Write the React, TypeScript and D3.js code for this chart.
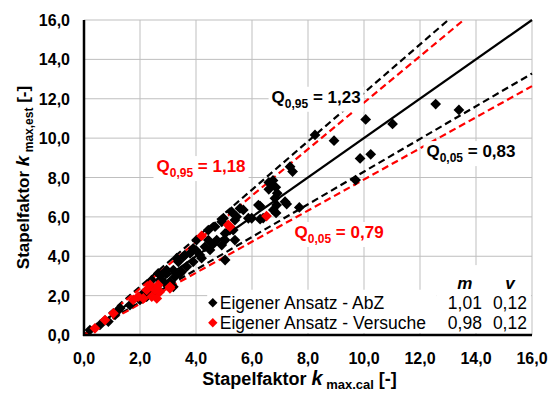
import { useEffect, useRef } from 'react';
import * as d3 from 'd3';

// ─── Data ──────────────────────────────────────────────────

const WIDTH = 552;
const HEIGHT = 393;
const MARGIN = { top: 20, right: 20, bottom: 58, left: 84 };
const AXIS_MAX = 16;
const TICKS = [0, 2, 4, 6, 8, 10, 12, 14, 16];

// Eigener Ansatz - AbZ (black)
const ABZ_CAL = [
  0.21, 0.57, 0.87, 1.11, 1.23, 1.29, 1.64, 2.0, 2.12, 2.24, 2.54, 2.36, 2.6, 2.42, 2.71, 2.89,
  3.07, 3.19, 2.95, 2.77, 2.65, 2.95, 3.25, 3.43, 3.19, 3.49, 3.37, 3.67, 3.9, 3.55, 3.79, 3.6,
  3.31, 4.14, 4.32, 4.5, 4.02, 4.44, 4.74, 5.04, 4.92, 4.68, 4.44, 4.92, 5.21, 5.39, 5.04, 5.39,
  5.04, 5.33, 5.27, 5.57, 5.87, 4.98, 5.45, 5.69, 5.99, 6.29, 6.23, 6.4, 6.76, 6.86, 6.88, 7.18,
  7.24, 7.69, 6.29, 6.82, 6.6, 6.7, 6.75, 6.85, 6.6, 6.9, 7.36, 7.45, 8.25, 8.93, 9.7, 9.86,
  10.24, 10.06, 11.02, 12.56, 13.39, 4.0, 4.2, 3.9, 4.6,
];
const ABZ_EST = [
  0.25, 0.51, 0.68, 1.02, 1.27, 1.36, 1.52, 1.78, 2.12, 1.95, 2.03, 2.2, 2.45, 2.79, 2.79, 2.63,
  2.71, 2.45, 3.13, 3.05, 3.13, 3.3, 2.96, 3.13, 3.3, 3.21, 3.72, 3.47, 3.72, 3.98, 4.15, 4.06,
  3.9, 4.06, 4.48, 4.32, 4.82, 4.82, 4.82, 4.82, 4.57, 5.5, 5.33, 5.75, 5.33, 5.84, 3.81, 4.82,
  5.16, 5.33, 6.26, 6.43, 5.93, 5.93, 6.01, 6.35, 5.93, 5.88, 6.6, 5.94, 6.35, 6.2, 6.6, 6.77,
  6.65, 6.48, 6.55, 6.94, 7.4, 7.6, 7.85, 7.5, 7.75, 7.2, 8.55, 8.3, 10.16, 9.87, 7.87, 8.97,
  9.18, 10.95, 10.72, 11.73, 11.43, 4.3, 3.9, 4.4, 4.6,
];

// Eigener Ansatz - Versuche (red)
const VERS_CAL = [
  0.39, 0.75, 1.05, 1.76, 1.94, 2.12, 2.24, 2.42, 2.6, 2.65, 2.36, 2.71, 3.07, 3.07, 2.54, 4.2,
  5.21, 5.15, 6.52,
];
const VERS_EST = [
  0.34, 0.76, 1.1, 1.78, 1.95, 1.86, 2.29, 1.95, 1.86, 2.54, 2.54, 2.2, 2.37, 2.45, 2.29, 5.03,
  5.5, 5.59, 6.04,
];

const SERIES_NAMES = ['Eigener Ansatz - AbZ', 'Eigener Ansatz - Versuche'];
const SERIES_COLORS = ['#000000', '#ff0000'];
const SERIES_M = ['1,01', '0,98'];
const SERIES_V = ['0,12', '0,12'];

// Reference lines k_est = slope * k_cal
const LINE_SLOPES = [1.0, 1.23, 1.18, 0.83, 0.79];
const LINE_COLORS = ['#000000', '#000000', '#ff0000', '#000000', '#ff0000'];
const LINE_DASHED = [false, true, true, true, true];

// Quantile annotations (anchored in data units)
const ANNO_SUB = ['0,95', '0,95', '0,05', '0,05'];
const ANNO_VALUE = ['1,23', '1,18', '0,83', '0,79'];
const ANNO_COLOR = ['#000000', '#ff0000', '#000000', '#ff0000'];
const ANNO_X = [8.29, 4.18, 13.82, 9.11];
const ANNO_Y = [12.05, 8.53, 9.29, 5.18];

const FONT = '"Liberation Sans", Arial, sans-serif';
const fmt = (v: number) => d3.format('.1f')(v).replace('.', ',');

// ─── Component ─────────────────────────────────────────────

export default function App() {
  const svgRef = useRef<SVGSVGElement>(null);

  useEffect(() => {
    if (!svgRef.current) return;
    const svg = d3.select(svgRef.current);
    svg.selectAll('*').remove();

    const x = d3.scaleLinear().domain([0, AXIS_MAX]).range([MARGIN.left, WIDTH - MARGIN.right]);
    const y = d3.scaleLinear().domain([0, AXIS_MAX]).range([HEIGHT - MARGIN.bottom, MARGIN.top]);

    svg.append('rect').attr('width', WIDTH).attr('height', HEIGHT).attr('fill', '#fff');

    // Grid
    const grid = svg.append('g').attr('stroke', '#bfbfbf').attr('stroke-width', 1);
    grid.selectAll('line.h').data(TICKS.slice(1)).join('line')
      .attr('x1', x(0)).attr('x2', x(AXIS_MAX))
      .attr('y1', (d) => y(d)).attr('y2', (d) => y(d));
    grid.selectAll('line.v').data(TICKS.slice(1)).join('line')
      .attr('y1', y(0)).attr('y2', y(AXIS_MAX))
      .attr('x1', (d) => x(d)).attr('x2', (d) => x(d));

    // Legend / table backgrounds (cover the grid)
    svg.append('rect')
      .attr('x', x(4.4)).attr('y', y(2.3))
      .attr('width', x(12.6) - x(4.4)).attr('height', y(0) - y(2.3) - 2)
      .attr('fill', '#fff');
    svg.append('rect')
      .attr('x', x(12.6)).attr('y', y(3.55))
      .attr('width', x(AXIS_MAX) - x(12.6) - 1).attr('height', y(0) - y(3.55) - 2)
      .attr('fill', '#fff');

    // Reference lines
    LINE_SLOPES.forEach((s, i) => {
      const xEnd = Math.min(AXIS_MAX, AXIS_MAX / s);
      svg.append('line')
        .attr('x1', x(0)).attr('y1', y(0))
        .attr('x2', x(xEnd)).attr('y2', y(s * xEnd))
        .attr('stroke', LINE_COLORS[i])
        .attr('stroke-width', 2.2)
        .attr('stroke-dasharray', LINE_DASHED[i] ? '7 4' : null);
    });

    // Points
    const diamond = d3.symbol(d3.symbolSquare, 58)();
    const drawPoints = (xs: number[], ys: number[], color: string) => {
      svg.append('g').selectAll('path').data(xs).join('path')
        .attr('d', diamond)
        .attr('transform', (d, i) => `translate(${x(d)},${y(ys[i])}) rotate(45)`)
        .attr('fill', color);
    };
    drawPoints(ABZ_CAL, ABZ_EST, SERIES_COLORS[0]);
    drawPoints(VERS_CAL, VERS_EST, SERIES_COLORS[1]);

    // Axes (left + bottom thick)
    svg.append('line')
      .attr('x1', x(0)).attr('x2', x(0)).attr('y1', y(0) + 1).attr('y2', y(AXIS_MAX))
      .attr('stroke', '#000').attr('stroke-width', 2.5);
    svg.append('line')
      .attr('x1', x(0) - 1).attr('x2', x(AXIS_MAX)).attr('y1', y(0)).attr('y2', y(0))
      .attr('stroke', '#000').attr('stroke-width', 2.5);

    // Tick labels
    svg.append('g').selectAll('text').data(TICKS).join('text')
      .attr('x', (d) => x(d)).attr('y', y(0) + 29)
      .attr('text-anchor', 'middle')
      .attr('font-family', FONT).attr('font-size', 16).attr('font-weight', 'bold')
      .text(fmt);
    svg.append('g').selectAll('text').data(TICKS).join('text')
      .attr('x', x(0) - 14).attr('y', (d) => y(d) + 6)
      .attr('text-anchor', 'end')
      .attr('font-family', FONT).attr('font-size', 16).attr('font-weight', 'bold')
      .text(fmt);

    // Axis titles
    const xt = svg.append('text')
      .attr('x', x(7.7)).attr('y', HEIGHT - 8)
      .attr('text-anchor', 'middle')
      .attr('font-family', FONT).attr('font-size', 18).attr('font-weight', 'bold');
    xt.append('tspan').text('Stapelfaktor ');
    xt.append('tspan').attr('font-style', 'italic').attr('font-size', 20).text('k');
    xt.append('tspan').attr('font-size', 13).attr('dy', 4).text(' max.cal');
    xt.append('tspan').attr('dy', -4).text(' [-]');

    const yt = svg.append('text')
      .attr('transform', `translate(29,${(y(0) + y(AXIS_MAX)) / 2}) rotate(-90)`)
      .attr('text-anchor', 'middle')
      .attr('font-family', FONT).attr('font-size', 17).attr('font-weight', 'bold');
    yt.append('tspan').text('Stapelfaktor  ');
    yt.append('tspan').attr('font-style', 'italic').attr('font-size', 19).text('k');
    yt.append('tspan').attr('font-size', 12).attr('dy', 4).text(' max,est');
    yt.append('tspan').attr('dy', -4).text(' [-]');

    // Quantile annotations with white backgrounds
    ANNO_VALUE.forEach((val, i) => {
      const g = svg.append('g');
      const t = g.append('text')
        .attr('x', x(ANNO_X[i])).attr('y', y(ANNO_Y[i]) + 5)
        .attr('text-anchor', 'middle')
        .attr('font-family', FONT).attr('font-size', 17).attr('font-weight', 'bold')
        .attr('fill', ANNO_COLOR[i]);
      t.append('tspan').text('Q');
      t.append('tspan').attr('font-size', 12).attr('dy', 5).text(ANNO_SUB[i]);
      t.append('tspan').attr('dy', -5).text(` = ${val}`);
      const bb = (t.node() as SVGTextElement).getBBox();
      g.insert('rect', 'text')
        .attr('x', bb.x - 3).attr('y', bb.y - 1)
        .attr('width', bb.width + 6).attr('height', bb.height + 2)
        .attr('fill', '#fff');
    });

    // Legend
    const legend = svg.append('g');
    const colM = x(14.21);
    const colV = x(15.82);
    const hdrY = y(2.3) - 1;
    [['m', colM - 17], ['v', colV - 17]].forEach(([s, cx]) => {
      legend.append('text')
        .attr('x', cx as number).attr('y', hdrY)
        .attr('text-anchor', 'middle')
        .attr('font-family', FONT).attr('font-size', 17).attr('font-weight', 'bold')
        .attr('font-style', 'italic')
        .text(s as string);
    });
    SERIES_NAMES.forEach((name, i) => {
      const ry = hdrY + 20 + i * 20;
      legend.append('path')
        .attr('d', d3.symbol(d3.symbolSquare, 44)())
        .attr('transform', `translate(${x(4.6)},${ry - 6}) rotate(45)`)
        .attr('fill', SERIES_COLORS[i]);
      legend.append('text')
        .attr('x', x(4.85)).attr('y', ry)
        .attr('font-family', FONT).attr('font-size', 17.5)
        .text(name);
      legend.append('text')
        .attr('x', colM).attr('y', ry).attr('text-anchor', 'end')
        .attr('font-family', FONT).attr('font-size', 17.5)
        .text(SERIES_M[i]);
      legend.append('text')
        .attr('x', colV).attr('y', ry).attr('text-anchor', 'end')
        .attr('font-family', FONT).attr('font-size', 17.5)
        .text(SERIES_V[i]);
    });
  }, []);

  return (
    <svg
      ref={svgRef}
      width={WIDTH}
      height={HEIGHT}
      style={{ position: 'absolute', left: 0, top: 0, display: 'block' }}
    />
  );
}
